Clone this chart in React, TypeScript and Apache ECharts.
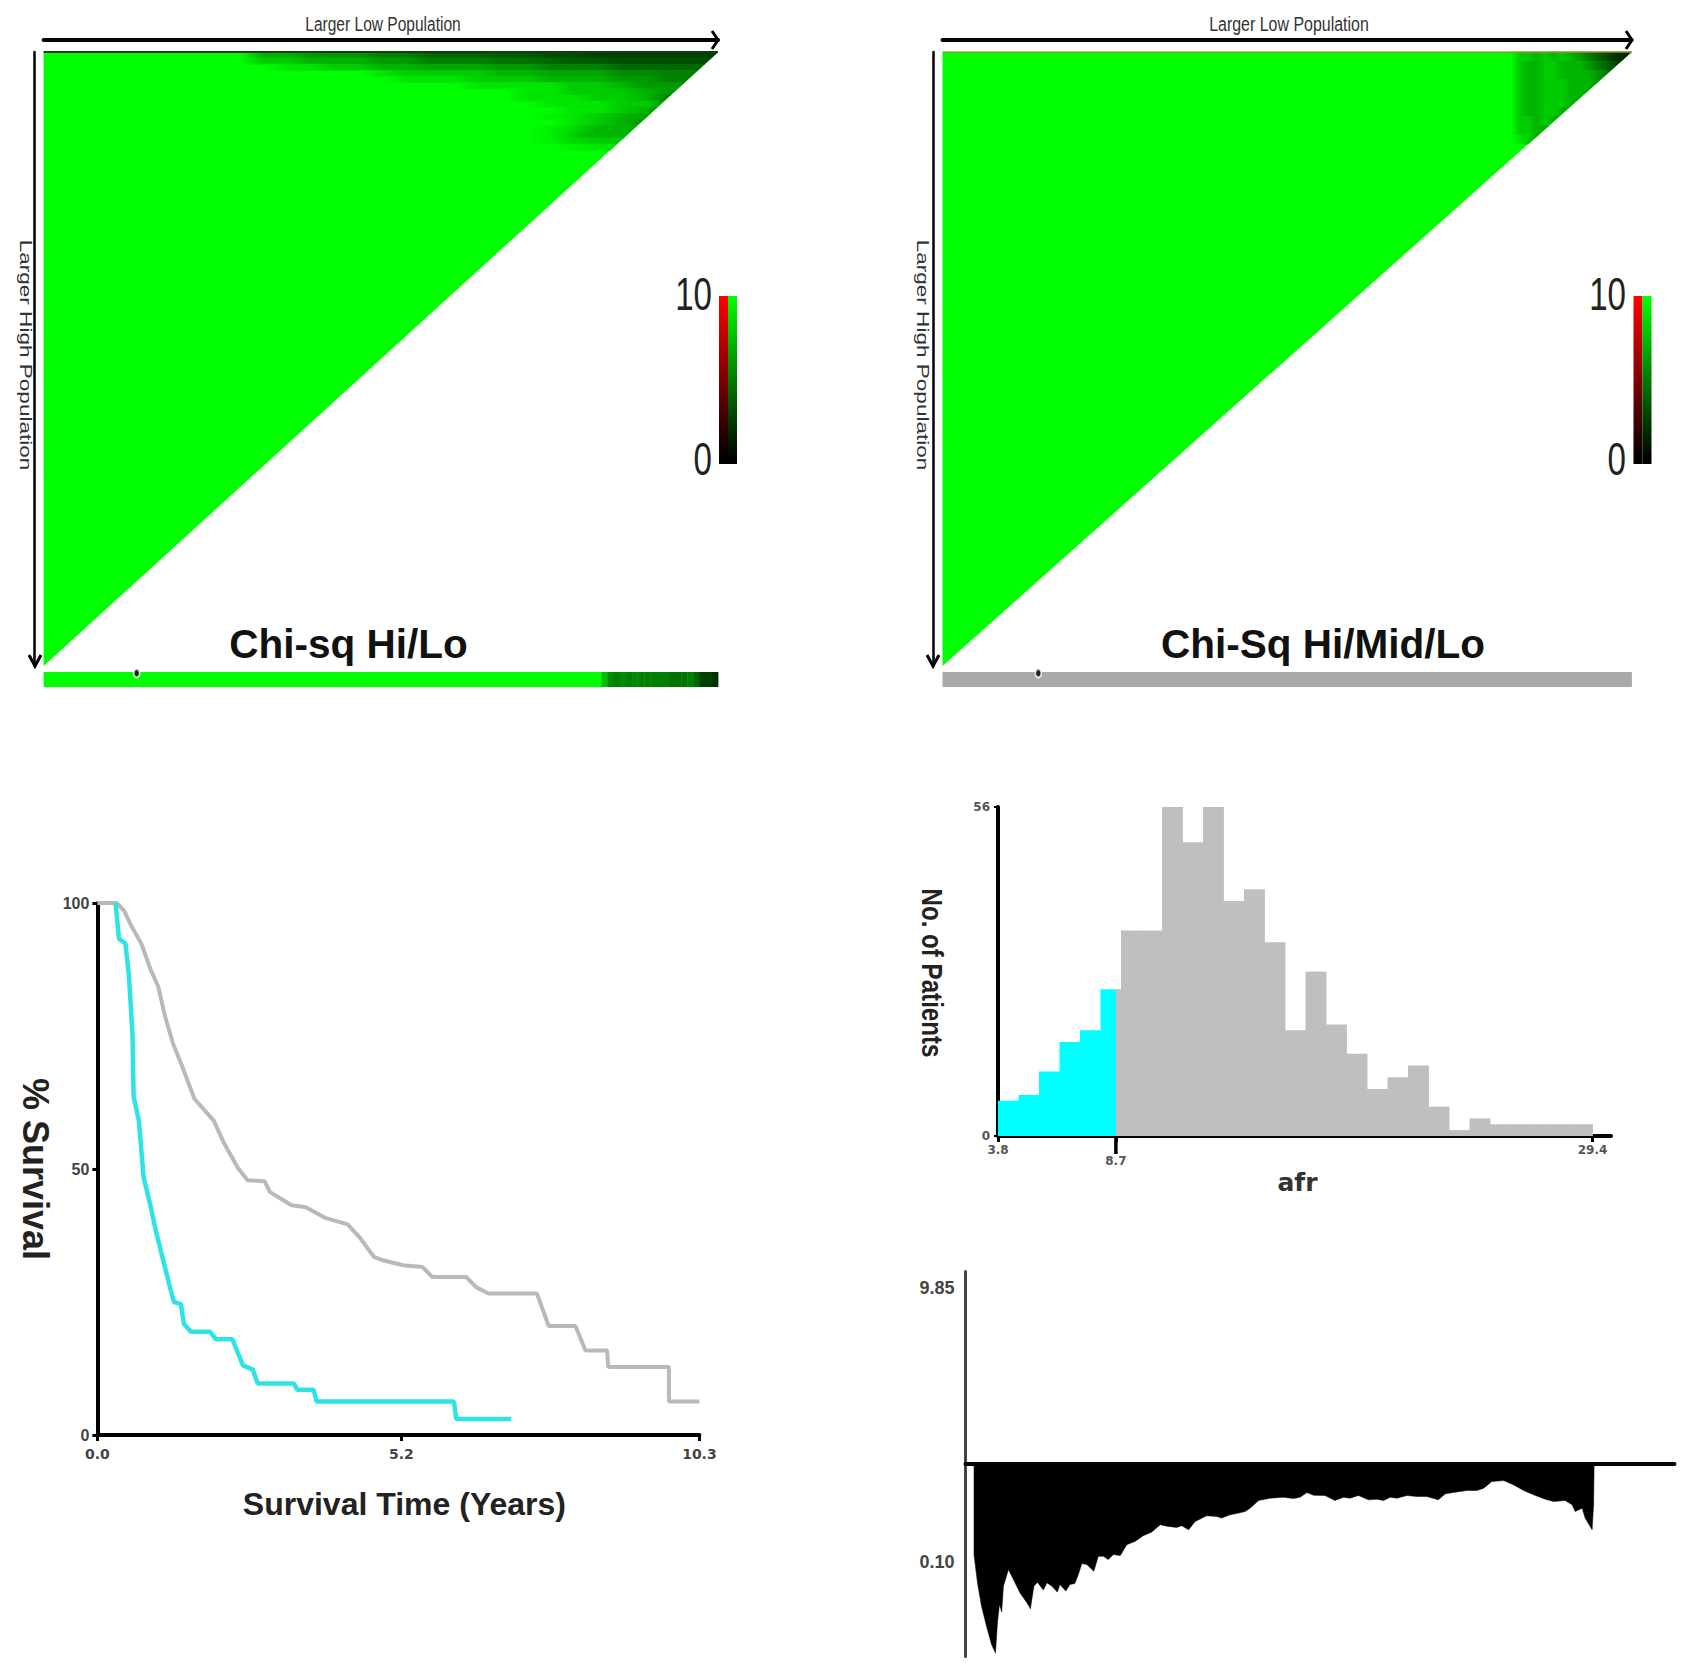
import React, { useEffect, useRef } from 'react';
import * as echarts from 'echarts';

const ARIAL = '"Liberation Sans", Arial, sans-serif';
const DEJAVU = '"DejaVu Sans", sans-serif';

// X-tile maps, green level 0-10. Rows run down from the top edge, columns end at the right edge.
const hiLoColStart = 29;
const hiLoColWidth = 3.55;
const hiLoRows = [
    [10, 7, 7, 6, 6, 6, 5, 5, 4, 4, 4, 3.5, 3.5, 3, 3, 2.5, 2.5, 2.5, 2.5, 2.5],
    [10, 8, 8, 7, 7, 7, 6, 6, 5, 5, 5, 4.5, 4.5, 4, 3.5, 3.5, 3, 3, 3, 3],
    [10, 10, 9, 9, 8, 8, 7, 7, 6.5, 6.5, 6.5, 6, 6, 5, 5, 5, 4, 4, 4, 4],
    [10, 10, 10, 10, 10, 10, 9, 8, 8, 8, 8, 7, 7, 6.5, 6.5, 6.5, 5.5, 5.5, 5, 5],
    [10, 10, 10, 10, 10, 10, 10, 9, 9, 9, 8, 8, 8, 7, 7, 7, 6, 6, 5, 5],
    [10, 10, 10, 10, 10, 10, 10, 10, 10, 10, 9, 9, 9, 9, 8, 8, 7, 6, 6, 6],
    [10, 10, 10, 10, 10, 10, 10, 10, 10, 10, 10, 10, 9, 9, 8, 8, 8, 7, 6, 6],
    [10, 10, 10, 10, 10, 10, 10, 10, 10, 10, 10, 10, 9, 9, 9, 8, 8, 7, 5, 5],
    [10, 10, 10, 10, 10, 10, 10, 10, 10, 10, 10, 10, 10, 9, 9, 9, 8, 8, 6, 6],
    [10, 10, 10, 10, 10, 10, 10, 10, 10, 10, 10, 10, 10, 10, 9, 9, 8, 7, 6, 6],
    [10, 10, 10, 10, 10, 10, 10, 10, 10, 10, 10, 10, 10, 9.5, 9, 8, 7, 6.5, 6, 6],
    [10, 10, 10, 10, 10, 10, 10, 10, 10, 10, 10, 10, 10, 10, 9, 8, 7, 6, 6, 6],
    [10, 10, 10, 10, 10, 10, 10, 10, 10, 10, 10, 10, 10, 9.5, 8.5, 7, 7, 7, 7, 7],
    [10, 10, 10, 10, 10, 10, 10, 10, 10, 10, 10, 10, 10, 9.5, 8, 7, 7, 7, 7, 7],
    [10, 10, 10, 10, 10, 10, 10, 10, 10, 10, 10, 10, 10, 9.5, 8.5, 8, 8, 8, 8, 8],
    [10, 10, 10, 10, 10, 10, 10, 10, 10, 10, 10, 10, 10, 10, 9.5, 9, 9, 9, 9, 9],
];
const hiMidLoColStart = 82.5;
const hiMidLoColWidth = 1.25;
const hiMidLoRowHeight = 1.5;
const hiMidLoRows = [
    [10, 8, 8, 7, 8, 7, 8, 7, 6, 5, 4, 3, 2, 1.5],
    [10, 8, 7, 7, 8, 8, 7, 7, 7, 6, 5, 4, 3, 2],
    [10, 8, 7, 7, 8, 8, 7, 7, 7, 7, 6, 5, 4, 3],
    [10, 8, 7, 7, 8, 8, 8, 7, 7, 7, 6, 5, 4, 4],
    [10, 8, 7, 7, 8, 8, 8, 7, 7, 7, 6, 6, 6, 6],
    [10, 8, 7, 7, 8, 8, 8, 7, 7, 6, 6, 6, 6, 6],
    [10, 8, 7, 7, 8, 8, 7, 7, 6, 6, 6, 6, 6, 6],
    [10, 8, 8, 7, 8, 7, 6, 6, 6, 6, 6, 6, 6, 6],
    [10, 8, 8, 7, 7, 6, 6, 6, 6, 6, 6, 6, 6, 6],
    [10, 9, 8, 7, 6, 6, 6, 6, 6, 6, 6, 6, 6, 6],
];

const hiLoStripStart = 82.7;
const hiLoStrip = [7.5, 5.5, 5, 5.5, 5, 5.5, 5, 5, 5, 5, 5, 4.5, 4.5, 4.5, 5, 4, 2.5, 2.5, 2];

const cutDotPosition = [13.8, 13.9];

// Kaplan-Meier curves
const grayTime = [0, 0.33, 0.46, 0.58, 0.75, 0.91, 1.04, 1.16, 1.29, 1.45, 1.66, 1.99, 2.16, 2.41, 2.57, 2.86, 2.95, 3.32, 3.57, 3.9, 4.28, 4.49, 4.73, 4.9, 5.23, 5.56, 5.73, 6.31, 6.48, 6.69, 7.52, 7.72, 8.18, 8.35, 8.72, 8.74, 9.78, 9.78, 10.3];
const graySurvival = [100, 100, 98.5, 95.7, 92.4, 87.5, 84.3, 78.6, 73.7, 69.3, 63.2, 59.1, 55, 50.1, 47.9, 47.7, 45.7, 43.2, 42.8, 40.8, 39.6, 37.1, 33.5, 32.8, 31.9, 31.6, 29.7, 29.7, 27.8, 26.6, 26.6, 20.5, 20.5, 15.9, 15.9, 12.8, 12.8, 6.3, 6.3];
const cyanTime = [0.31, 0.37, 0.48, 0.54, 0.6, 0.62, 0.71, 0.79, 0.91, 1.0, 1.12, 1.25, 1.31, 1.43, 1.48, 1.6, 1.93, 2.03, 2.31, 2.49, 2.66, 2.74, 3.36, 3.42, 3.7, 3.75, 6.1, 6.14, 7.08];
const cyanSurvival = [100, 93.3, 92.4, 86.3, 75.4, 63.6, 59.1, 48.5, 43, 38.4, 33.1, 27.4, 25, 24.6, 20.9, 19.4, 19.4, 18, 18, 13.1, 12.3, 9.7, 9.7, 8.5, 8.5, 6.3, 6.3, 3, 3];
const timeTicks = [0, 5.2, 10.3];

// afr histogram, one count per bin
const histCounts = [6, 7, 11, 16, 18, 25, 35, 35, 56, 50, 56, 40, 42, 33, 18, 28, 19, 14, 8, 10, 12, 5, 1, 3, 2, 2, 2, 2, 2];
const histCutBin = 5.75;
const histTickBins = [0, histCutBin, 29];
const histTickLabels = ['3.8', '8.7', '29.4'];

// Cut-point score strip under the baseline
const scoreRank = [17, 17, 24, 32, 42, 52, 60, 64, 68, 72.5, 76, 86, 96, 109, 123, 130, 137, 144, 149, 156, 163, 173, 184, 189, 201, 209, 219, 226, 233, 243, 257, 266, 276, 286, 296, 310, 323, 340, 356, 373, 390, 406, 423, 433, 447, 460, 483, 503, 513, 530, 547, 560, 570, 587, 610, 637, 657, 670, 684, 697, 720, 740, 757, 770, 787, 807, 824, 837, 851, 864, 884, 904, 924, 947, 961, 977, 1004, 1024, 1038, 1054, 1078, 1098, 1118, 1138, 1161, 1178, 1201, 1215, 1221, 1235, 1241, 1255, 1258, 1259];
const scoreValue = [0, -273, -358, -428, -488, -543, -570, -478, -423, -446, -368, -318, -348, -388, -418, -436, -368, -356, -366, -380, -358, -368, -386, -363, -383, -363, -360, -333, -300, -303, -323, -278, -278, -288, -273, -276, -243, -233, -216, -205, -183, -188, -191, -186, -198, -173, -156, -158, -163, -153, -148, -143, -133, -110, -103, -100, -104, -100, -86, -94, -95, -110, -100, -103, -95, -108, -106, -110, -100, -103, -95, -98, -98, -108, -90, -86, -80, -80, -73, -53, -50, -63, -80, -93, -106, -113, -110, -123, -143, -133, -163, -198, -123, 0];
const scoreTicks = [530, -295];

const greenLevel = (v: number) => `rgb(0,${Math.round(v * 25.5)},0)`;

const triangleItem = (_: any, api: any) => ({
    type: 'polygon',
    shape: { points: [api.coord([0, 0]), api.coord([100, 0]), api.coord([0, 100])] },
    style: { fill: '#00ff00' },
});

// A map cell, cut off along the diagonal of the triangle and shaded towards its right neighbour
const cellItem = (_: any, api: any) => {
    const x0 = api.value(0);
    const x1 = api.value(1);
    const y0 = api.value(2);
    const y1 = api.value(3);
    if (x0 + y0 >= 100) return null;
    const xTop = Math.min(x1, 100 - y0);
    const yLeft = Math.min(y1, 100 - x0);
    const xBottom = Math.max(x0, Math.min(x1, 100 - yLeft));
    const points = [
        api.coord([x0, y0]),
        api.coord([xTop, y0]),
        api.coord([xTop, Math.min(y1, 100 - xTop)]),
        api.coord([xBottom, yLeft]),
        api.coord([x0, yLeft]),
    ];
    const fill = new echarts.graphic.LinearGradient(0, 0, 1, 0, [
        { offset: 0, color: greenLevel(api.value(4)) },
        { offset: 1, color: greenLevel(api.value(5)) },
    ]);
    return { type: 'polygon', shape: { points }, style: { fill, stroke: fill, lineWidth: 0.6 } };
};

const stripItem = (_: any, api: any) => {
    const a = api.coord([api.value(0), 0]);
    const b = api.coord([api.value(1), 1]);
    const v = api.value(2);
    const fill = v < 0 ? '#a9a9a9' : greenLevel(v);
    return {
        type: 'rect',
        shape: { x: a[0], y: a[1], width: b[0] - a[0] + 0.4, height: b[1] - a[1] },
        style: { fill },
    };
};

const histItem = (_: any, api: any) => {
    const a = api.coord([api.value(0), api.value(2)]);
    const b = api.coord([api.value(1), 0]);
    return {
        type: 'rect',
        shape: { x: a[0], y: a[1], width: b[0] - a[0] + 0.4, height: b[1] - a[1] },
        style: { fill: api.value(3) ? '#00ffff' : '#bfbfbf' },
    };
};

const cutTickItem = (_: any, api: any) => {
    const p = api.coord([api.value(0), 0]);
    return {
        type: 'line',
        shape: { x1: p[0], y1: p[1], x2: p[0], y2: p[1] + 18 },
        style: { stroke: '#000', lineWidth: 3.5 },
    };
};

const mapCells = (rows: number[][], colStart: number, colWidth: number, rowHeight: number) => {
    const cells: number[][] = [];
    rows.forEach((row, r) => {
        row.forEach((v, c) => {
            const next = c + 1 < row.length ? row[c + 1] : v;
            if (v >= 10 && next >= 10) return;
            cells.push([colStart + c * colWidth, colStart + (c + 1) * colWidth, r * rowHeight, (r + 1) * rowHeight, v, next]);
        });
    });
    return cells;
};

const histBars = () => {
    const bars: number[][] = [];
    histCounts.forEach((count, i) => {
        if (i + 1 <= histCutBin) bars.push([i, i + 1, count, 1]);
        else if (i >= histCutBin) bars.push([i, i + 1, count, 0]);
        else {
            bars.push([i, histCutBin, count, 1]);
            bars.push([histCutBin, i + 1, count, 0]);
        }
    });
    return bars;
};

const zip = (xs: number[], ys: number[]) => xs.map((x, i) => [x, ys[i]]);

const mapXAxis = (gridIndex: number) => ({
    type: 'value',
    gridIndex,
    position: 'top',
    offset: 12,
    min: 0,
    max: 100,
    axisLine: { show: true, onZero: false, lineStyle: { color: '#000', width: 4 } },
    axisTick: { show: false },
    axisLabel: { show: false },
    splitLine: { show: false },
});

const mapYAxis = (gridIndex: number) => ({
    type: 'value',
    gridIndex,
    inverse: true,
    offset: 9,
    min: 0,
    max: 100,
    axisLine: { show: true, onZero: false, lineStyle: { color: '#000', width: 2.5 } },
    axisTick: { show: false },
    axisLabel: { show: false },
    splitLine: { show: false },
});

const hiddenAxis = (gridIndex: number, max: number, inverse = false) => ({
    type: 'value',
    gridIndex,
    show: false,
    min: 0,
    max,
    inverse,
});

const colorBar = (x: number) => [
    {
        type: 'rect',
        shape: { x, y: 296, width: 9, height: 168 },
        style: { fill: new echarts.graphic.LinearGradient(0, 0, 0, 1, [{ offset: 0, color: '#ff0000' }, { offset: 0.97, color: '#000' }, { offset: 1, color: '#000' }]) },
    },
    {
        type: 'rect',
        shape: { x: x + 9, y: 296, width: 9, height: 168 },
        style: { fill: new echarts.graphic.LinearGradient(0, 0, 0, 1, [{ offset: 0, color: '#00ff00' }, { offset: 0.97, color: '#000' }, { offset: 1, color: '#000' }]) },
    },
];

const barLabel = (text: string, x: number, y: number) => ({
    type: 'text',
    x,
    y,
    scaleX: 0.72,
    style: { text, fontFamily: ARIAL, fontSize: 46, fill: '#222', textAlign: 'right', verticalAlign: 'middle' },
});

const lowPopLabel = (x: number, scaleX: number) => ({
    type: 'text',
    x,
    y: 24,
    scaleX,
    style: { text: 'Larger Low Population', fontFamily: ARIAL, fontSize: 21, fill: '#333', textAlign: 'center', verticalAlign: 'middle' },
});

const highPopLabel = (x: number) => ({
    type: 'text',
    x,
    y: 355,
    rotation: -Math.PI / 2,
    scaleX: 1.41,
    style: { text: 'Larger High Population', fontFamily: ARIAL, fontSize: 16, fill: '#333', textAlign: 'center', verticalAlign: 'middle' },
});

const chevronRight = (x: number) => ({
    type: 'polyline',
    shape: { points: [[x - 6, 31], [x, 40], [x - 6, 49]] },
    style: { stroke: '#000', lineWidth: 3, fill: 'none' },
});

const chevronDown = (x: number) => ({
    type: 'polyline',
    shape: { points: [[x - 6, 655], [x, 666], [x + 6, 655]] },
    style: { stroke: '#000', lineWidth: 3, fill: 'none' },
});

const App: React.FC = () => {
    const chartRef = useRef<HTMLDivElement>(null);

    useEffect(() => {
        if (!chartRef.current) return;
        const chart = echarts.init(chartRef.current, undefined, { renderer: 'svg' });

        const option: any = {
            animation: false,
            backgroundColor: '#fff',
            title: [
                { text: 'Chi-sq Hi/Lo', left: 348.5, textAlign: 'center', top: 623, padding: 0, textStyle: { fontFamily: ARIAL, fontSize: 40.5, fontWeight: 'bold', color: '#111' } },
                { text: 'Chi-Sq Hi/Mid/Lo', left: 1323, textAlign: 'center', top: 623, padding: 0, textStyle: { fontFamily: ARIAL, fontSize: 40.5, fontWeight: 'bold', color: '#111' } },
            ],
            grid: [
                { left: 43.6, top: 52, width: 674.4, height: 614 },
                { left: 942.5, top: 52, width: 689, height: 614 },
                { left: 43.6, top: 672, width: 674.4, height: 15 },
                { left: 942.5, top: 672, width: 689, height: 15 },
                { left: 97.4, top: 903, width: 602, height: 532 },
                { left: 998, top: 807, width: 613, height: 329 },
                { left: 965.5, top: 1271.5, width: 709, height: 385 },
            ],
            xAxis: [
                mapXAxis(0),
                mapXAxis(1),
                hiddenAxis(2, 100),
                hiddenAxis(3, 100),
                {
                    type: 'value',
                    gridIndex: 4,
                    min: 0,
                    max: 10.3,
                    axisLine: { onZero: false, lineStyle: { color: '#000', width: 4 } },
                    axisTick: { customValues: timeTicks, length: 6, lineStyle: { color: '#000', width: 3 } },
                    axisLabel: {
                        customValues: timeTicks,
                        formatter: (v: number) => v.toFixed(1),
                        margin: 12,
                        fontFamily: DEJAVU,
                        fontWeight: 'bold',
                        fontSize: 14,
                        color: '#444',
                    },
                    splitLine: { show: false },
                    name: 'Survival Time (Years)',
                    nameLocation: 'middle',
                    nameGap: 53,
                    nameTextStyle: { fontFamily: ARIAL, fontWeight: 'bold', fontSize: 32, color: '#222', padding: [0, 0, 0, 12] },
                },
                {
                    type: 'value',
                    gridIndex: 5,
                    min: 0,
                    max: 29.9,
                    axisLine: { onZero: false, lineStyle: { color: '#000', width: 4 } },
                    axisTick: { customValues: histTickBins, length: 6, lineStyle: { color: '#000', width: 3 } },
                    axisLabel: {
                        customValues: histTickBins,
                        formatter: (v: number) => {
                            const label = histTickLabels[histTickBins.indexOf(v)];
                            return v === histCutBin ? `{cut|${label}}` : label;
                        },
                        rich: { cut: { padding: [11, 0, 0, 0], fontFamily: DEJAVU, fontWeight: 'bold', fontSize: 12, color: '#555' } },
                        margin: 8,
                        fontFamily: DEJAVU,
                        fontWeight: 'bold',
                        fontSize: 12,
                        color: '#555',
                    },
                    splitLine: { show: false },
                    name: 'afr',
                    nameLocation: 'middle',
                    nameGap: 34,
                    nameTextStyle: { fontFamily: DEJAVU, fontWeight: 'bold', fontSize: 25, color: '#333', padding: [0, 14, 0, 0] },
                },
                {
                    type: 'value',
                    gridIndex: 6,
                    min: 0,
                    max: 1420,
                    axisLine: { onZero: true, lineStyle: { color: '#000', width: 4 } },
                    axisTick: { show: false },
                    axisLabel: { show: false },
                    splitLine: { show: false },
                },
            ],
            yAxis: [
                mapYAxis(0),
                mapYAxis(1),
                hiddenAxis(2, 1, true),
                hiddenAxis(3, 1, true),
                {
                    type: 'value',
                    gridIndex: 4,
                    min: 0,
                    max: 100,
                    interval: 50,
                    axisLine: { show: true, onZero: false, lineStyle: { color: '#000', width: 4 } },
                    axisTick: { show: true, length: 5, lineStyle: { color: '#000', width: 3 } },
                    axisLabel: { margin: 8, fontFamily: ARIAL, fontWeight: 'bold', fontSize: 16, color: '#444' },
                    splitLine: { show: false },
                    name: '% Survival',
                    nameLocation: 'middle',
                    nameRotate: -90,
                    nameGap: 44,
                    nameTextStyle: { fontFamily: ARIAL, fontWeight: 'bold', fontSize: 36, color: '#222' },
                },
                {
                    type: 'value',
                    gridIndex: 5,
                    min: 0,
                    max: 56,
                    interval: 56,
                    axisLine: { show: true, onZero: false, lineStyle: { color: '#000', width: 4 } },
                    axisTick: { show: true, length: 4, lineStyle: { color: '#000', width: 2 } },
                    axisLabel: { margin: 8, fontFamily: DEJAVU, fontWeight: 'bold', fontSize: 12, color: '#555' },
                    splitLine: { show: false },
                },
                {
                    type: 'value',
                    gridIndex: 6,
                    min: -580,
                    max: 580,
                    axisLine: { show: true, onZero: false, lineStyle: { color: '#444', width: 3 } },
                    axisTick: { show: false },
                    axisLabel: {
                        customValues: scoreTicks,
                        formatter: (v: number) => (v > 0 ? '9.85' : '0.10'),
                        margin: 11,
                        fontFamily: ARIAL,
                        fontWeight: 'bold',
                        fontSize: 18,
                        color: '#444',
                    },
                    splitLine: { show: false },
                },
            ],
            series: [
                { type: 'custom', xAxisIndex: 0, yAxisIndex: 0, renderItem: triangleItem, data: [[0, 0]] },
                { type: 'custom', xAxisIndex: 1, yAxisIndex: 1, renderItem: triangleItem, data: [[0, 0]] },
                { type: 'custom', xAxisIndex: 0, yAxisIndex: 0, renderItem: cellItem, data: mapCells(hiLoRows, hiLoColStart, hiLoColWidth, 1) },
                { type: 'custom', xAxisIndex: 1, yAxisIndex: 1, renderItem: cellItem, data: mapCells(hiMidLoRows, hiMidLoColStart, hiMidLoColWidth, hiMidLoRowHeight) },
                { type: 'line', xAxisIndex: 0, yAxisIndex: 0, showSymbol: false, lineStyle: { color: '#0c400c', width: 2 }, data: [[0, 0], [100, 0]] },
                { type: 'line', xAxisIndex: 1, yAxisIndex: 1, showSymbol: false, lineStyle: { color: '#a08a20', width: 1.5 }, data: [[0, 0], [100, 0]] },
                {
                    type: 'custom',
                    xAxisIndex: 2,
                    yAxisIndex: 2,
                    renderItem: stripItem,
                    data: [
                        [0, hiLoStripStart, 10],
                        ...hiLoStrip.map((v, i) => {
                            const w = (100 - hiLoStripStart) / hiLoStrip.length;
                            return [hiLoStripStart + i * w, hiLoStripStart + (i + 1) * w, v];
                        }),
                    ],
                },
                { type: 'custom', xAxisIndex: 3, yAxisIndex: 3, renderItem: stripItem, data: [[0, 100, -1]] },
                { type: 'scatter', xAxisIndex: 2, yAxisIndex: 2, clip: false, symbol: 'circle', symbolSize: [6, 9], itemStyle: { color: '#000', borderColor: '#fff', borderWidth: 2 }, data: [[cutDotPosition[0], 0.07]] },
                { type: 'scatter', xAxisIndex: 3, yAxisIndex: 3, clip: false, symbol: 'circle', symbolSize: [6, 9], itemStyle: { color: '#000', borderColor: '#fff', borderWidth: 2 }, data: [[cutDotPosition[1], 0.07]] },
                { type: 'line', xAxisIndex: 4, yAxisIndex: 4, showSymbol: false, clip: false, lineStyle: { color: '#b9b9b9', width: 4 }, data: zip(grayTime, graySurvival) },
                { type: 'line', xAxisIndex: 4, yAxisIndex: 4, showSymbol: false, clip: false, lineStyle: { color: '#2fe3e3', width: 4.5 }, data: zip(cyanTime, cyanSurvival) },
                { type: 'custom', xAxisIndex: 5, yAxisIndex: 5, renderItem: histItem, data: histBars() },
                { type: 'custom', xAxisIndex: 5, yAxisIndex: 5, renderItem: cutTickItem, data: [[histCutBin]] },
                {
                    type: 'line',
                    xAxisIndex: 6,
                    yAxisIndex: 6,
                    showSymbol: false,
                    lineStyle: { color: '#000', width: 0.5 },
                    areaStyle: { color: '#000', opacity: 1 },
                    data: zip(scoreRank, scoreValue),
                },
            ],
            graphic: [
                ...colorBar(719),
                ...colorBar(1633.5),
                barLabel('10', 712, 294),
                barLabel('0', 712, 459),
                barLabel('10', 1626, 294),
                barLabel('0', 1626, 459),
                lowPopLabel(383, 0.74),
                lowPopLabel(1289, 0.76),
                highPopLabel(26),
                highPopLabel(923),
                {
                    type: 'text',
                    x: 932,
                    y: 973,
                    rotation: -Math.PI / 2,
                    scaleX: 0.805,
                    style: { text: 'No. of Patients', fontFamily: ARIAL, fontWeight: 'bold', fontSize: 30, fill: '#222', textAlign: 'center', verticalAlign: 'middle' },
                },
                chevronRight(718),
                chevronRight(1632),
                chevronDown(35),
                chevronDown(933),
            ],
        };

        chart.setOption(option);

        return () => {
            chart.dispose();
        };
    }, []);

    return <div ref={chartRef} style={{ position: 'absolute', left: 0, top: 0, width: 1686, height: 1666 }} />;
};

export default App;
